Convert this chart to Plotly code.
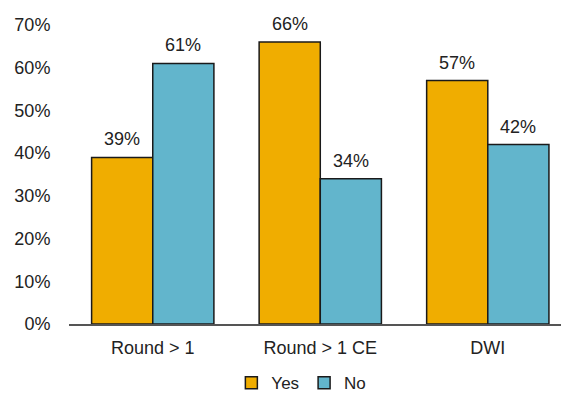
import plotly.graph_objects as go

categories = ["Round > 1", "Round > 1 CE", "DWI"]
yes_vals = [39, 66, 57]
no_vals = [61, 34, 42]
y_ticks = [0, 10, 20, 30, 40, 50, 60, 70]

ORANGE = "#F0AD00"
BLUE = "#62B5CC"
FONT = "Liberation Sans, Arial, sans-serif"

xs = list(range(len(categories)))
fig = go.Figure()
fig.add_trace(go.Bar(x=xs, y=yes_vals, name="Yes", marker=dict(color=ORANGE, line=dict(color="#1a1a1a", width=1.5))))
fig.add_trace(go.Bar(x=xs, y=no_vals, name="No", marker=dict(color=BLUE, line=dict(color="#1a1a1a", width=1.5))))

bargap = 0.27
half = (1 - bargap) / 4
for i in xs:
    for off, v in ((-half, yes_vals[i]), (half, no_vals[i])):
        fig.add_annotation(x=i + off, y=v, text=f"{v}%", showarrow=False,
                           yanchor="bottom", yshift=6, font=dict(size=18, color="#222", family=FONT))

fig.update_layout(
    width=561, height=395,
    margin=dict(l=69, r=0, t=25, b=71, autoexpand=False),
    paper_bgcolor="white", plot_bgcolor="white",
    barmode="group", bargap=bargap, bargroupgap=0,
    font=dict(family=FONT, size=18, color="#222"),
    showlegend=True,
    legend=dict(orientation="h", x=0.33, xanchor="left", y=-0.198, yanchor="middle",
                font=dict(size=17), itemwidth=30, tracegroupgap=0),
    xaxis=dict(range=[-0.5, 2.437], tickmode="array", tickvals=xs, ticktext=categories,
               showgrid=False, zeroline=False, showline=True, linecolor="#555", linewidth=2,
               ticks="outside", ticklen=6, tickcolor="rgba(0,0,0,0)"),
    yaxis=dict(range=[0, 70], tickmode="array", tickvals=y_ticks,
               ticktext=[f"{t}%" for t in y_ticks], showgrid=False, zeroline=False,
               showline=False, ticks="outside", ticklen=14, tickcolor="rgba(0,0,0,0)"),
)
fig.write_html("out.html")
